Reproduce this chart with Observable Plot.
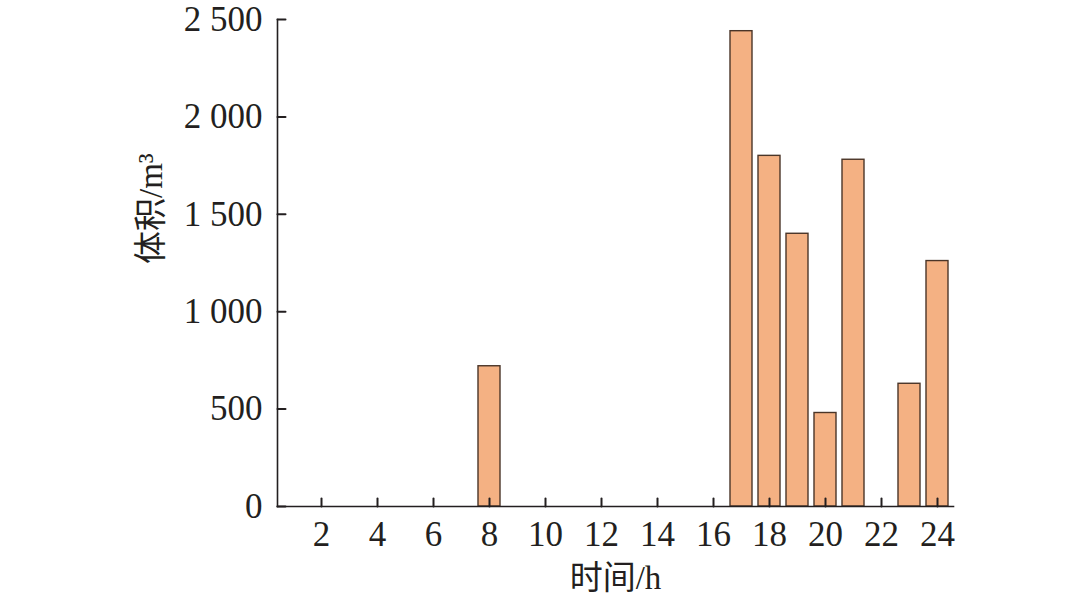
<!DOCTYPE html>
<html>
<head>
<meta charset="utf-8">
<script src="https://cdn.jsdelivr.net/npm/d3@7"></script>
<script src="https://cdn.jsdelivr.net/npm/@observablehq/plot@0.6"></script>
<style>
  html, body { margin: 0; padding: 0; background: #fff; }
  #chart svg { display: block; }
</style>
</head>
<body>
<div id="chart"></div>
<script>
const hours = d3.range(1, 25);
const volumes = [0, 0, 0, 0, 0, 0, 0, 720, 0, 0, 0, 0, 0, 0, 0, 0, 2440, 1800, 1400, 480, 1780, 0, 630, 1260];
const xTicks = [2, 4, 6, 8, 10, 12, 14, 16, 18, 20, 22, 24];
const yTicks = [0, 500, 1000, 1500, 2000, 2500];
const xTitle = "时间/h";
const yTitle = "体积/m³";

const data = hours.map((h, i) => ({hour: h, volume: volumes[i]})).filter(d => d.volume > 0);

const font = '"Liberation Serif", "Times New Roman", "Noto Sans CJK SC", serif';
const ink = "#231f20";
const fmt = v => d3.format(",")(v).replace(/,/g, " ");
const tickShape = {draw(context, l) { context.moveTo(0, 0); context.lineTo(0, -l); }};

const chart = Plot.plot({
  width: 1080,
  height: 602,
  marginLeft: 277,
  marginRight: 127,
  marginTop: 19,
  marginBottom: 96,
  style: {fontFamily: font, fontSize: "35px", color: ink, background: "#fff"},
  x: {type: "band", domain: hours, paddingInner: 0.2, paddingOuter: 0.1},
  y: {domain: [0, 2500]},
  marks: [
    Plot.barY(data, {x: "hour", y: "volume", fill: "#F4B183", stroke: "#4a3528", strokeWidth: 1.4}),
    // inward tick marks
    Plot.vector(xTicks, {x: d => d, frameAnchor: "bottom", length: 8, rotate: 0, anchor: "start", shape: tickShape, stroke: ink, strokeWidth: 2}),
    Plot.vector(yTicks, {y: d => d, frameAnchor: "left", length: 8, rotate: 90, anchor: "start", shape: tickShape, stroke: ink, strokeWidth: 2}),
    // tick labels
    Plot.axisX({ticks: xTicks, tickSize: 0, tickPadding: 15, tickFormat: d => String(d), label: null, fill: ink, fontSize: 35}),
    Plot.axisY({ticks: yTicks, tickSize: 0, tickPadding: 15, tickFormat: fmt, label: null, fill: ink, fontSize: 35}),
    Plot.frame({anchor: "bottom", stroke: ink, strokeWidth: 1.6}),
    Plot.frame({anchor: "left", stroke: ink, strokeWidth: 1.6}),
    Plot.text([xTitle], {text: d => d, frameAnchor: "bottom", dy: 72, lineAnchor: "middle", fontSize: 33, fill: ink}),
    Plot.text([yTitle], {text: d => d, frameAnchor: "left", dx: -126, dy: 1, rotate: -90, lineAnchor: "middle", fontSize: 33, fill: ink})
  ]
});
document.getElementById("chart").appendChild(chart);
</script>
</body>
</html>
